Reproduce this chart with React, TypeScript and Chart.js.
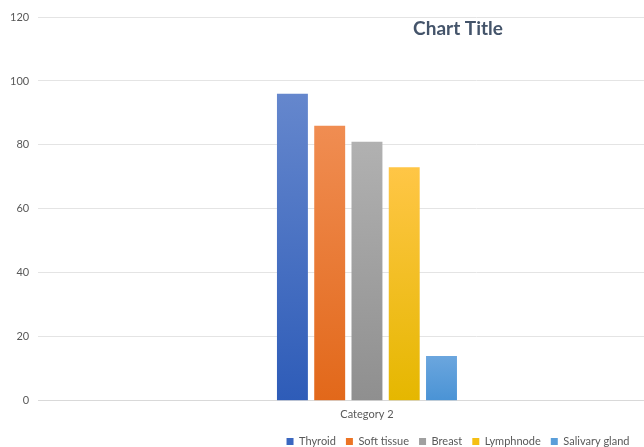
import React, { useEffect, useRef } from "react";
import { Chart, registerables } from "chart.js";

Chart.register(...registerables);

const categories = ["", "Category 2", "", ""];
const seriesNames = ["Thyroid", "Soft tissue", "Breast", "Lymphnode", "Salivary gland"];
const thyroid = [null, 96, null, null];
const softTissue = [null, 86, null, null];
const breast = [null, 81, null, null];
const lymphnode = [null, 73, null, null];
const salivary = [null, 14, null, null];
const yTicks = [0, 20, 40, 60, 80, 100, 120];

const topColors = ["#6587cd", "#f08d52", "#b1b1b1", "#ffc646", "#6ba6de"];
const bottomColors = ["#2e5cb8", "#e2681a", "#8f8f8f", "#e5b700", "#4a93d5"];
const legendColors = ["#3a67c0", "#ec7424", "#a0a0a0", "#f5bf14", "#5a9ed9"];

const FONT = "Lato, 'Open Sans', sans-serif";

export default function App() {
  const ref = useRef<HTMLCanvasElement | null>(null);

  useEffect(() => {
    const canvas = ref.current;
    if (!canvas) return;
    const allValues = [thyroid, softTissue, breast, lymphnode, salivary];

    const titlePlugin = {
      id: "floatTitle",
      afterDraw(chart: any) {
        const c = chart.ctx;
        c.save();
        c.font = `bold 19px ${FONT}`;
        c.fillStyle = "#44546a";
        c.textAlign = "center";
        c.textBaseline = "middle";
        c.fillText("Chart Title", chart.width / 2 - 3, chart.chartArea.top + 12);
        c.restore();
      },
    };

    const chart = new Chart(canvas, {
      type: "bar",
      data: {
        labels: categories,
        datasets: allValues.map((vals, i) => ({
          label: seriesNames[i],
          data: vals as any,
          backgroundColor: (ctx: any) => {
            const ch = ctx.chart;
            const ys = ch.scales && ch.scales.y;
            const v = ctx.raw;
            if (!ys || v == null || typeof v !== "number") return legendColors[i];
            const y0 = ys.getPixelForValue(0);
            const y1 = ys.getPixelForValue(v);
            if (!isFinite(y0) || !isFinite(y1) || y0 === y1) return legendColors[i];
            const g = ch.ctx.createLinearGradient(0, y1, 0, y0);
            g.addColorStop(0, topColors[i]);
            g.addColorStop(1, bottomColors[i]);
            return g;
          },
          borderWidth: 0,
          categoryPercentage: 0.85,
          barPercentage: 0.83,
        })),
      },
      options: {
        responsive: false,
        animation: false,
        layout: { padding: { left: 1, right: 7, top: 17, bottom: -10 } },
        plugins: {
          title: { display: false },
          tooltip: { enabled: false },
          legend: {
            position: "bottom",
            labels: {
              boxWidth: 7,
              boxHeight: 7,
              padding: 10,
              color: "#595959",
              font: { family: FONT, size: 11 },
              generateLabels: (ch: any) =>
                ch.data.datasets.map((d: any, i: number) => ({
                  text: d.label,
                  fillStyle: legendColors[i],
                  strokeStyle: legendColors[i],
                  lineWidth: 0,
                  hidden: false,
                  datasetIndex: i,
                  fontColor: "#595959",
                })),
            },
          },
        },
        scales: {
          x: {
            grid: { display: false, drawTicks: false },
            border: { display: true, color: "#d9d9d9", width: 1 },
            ticks: { color: "#595959", font: { family: FONT, size: 11 }, padding: 7 },
            afterFit: (scale: any) => {
              scale.height -= 2;
            },
          },
          y: {
            min: 0,
            max: 120,
            afterBuildTicks: (axis: any) => {
              axis.ticks = yTicks.map((v) => ({ value: v }));
            },
            grid: { color: "#e4e4e4", drawTicks: false },
            border: { display: false },
            ticks: { color: "#595959", font: { family: FONT, size: 11 }, padding: 9 },
          },
        },
      },
      plugins: [titlePlugin],
    });
    return () => chart.destroy();
  }, []);

  return (
    <div style={{ position: "fixed", left: 0, top: 0, width: 644, height: 447, overflow: "hidden", background: "#fff" }}>
      <canvas ref={ref} width={922} height={447} style={{ display: "block", width: 922, height: 447 }} />
    </div>
  );
}
